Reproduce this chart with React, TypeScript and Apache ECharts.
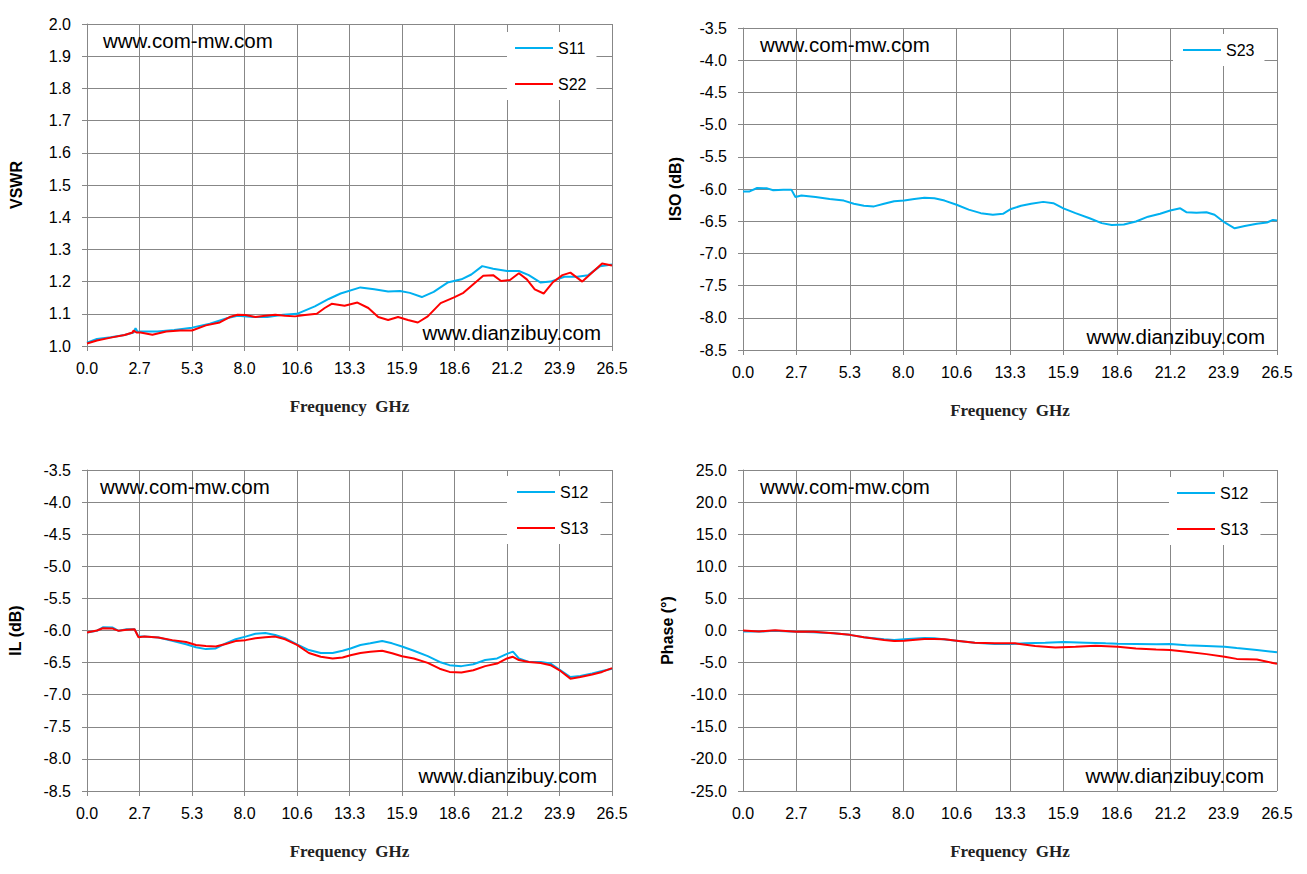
import { useEffect, useRef } from 'react';
import * as echarts from 'echarts';

// tick labels of the frequency axis (Excel style, 10 equal steps of 2.65 GHz)
const freqTicks = ['0.0', '2.7', '5.3', '8.0', '10.6', '13.3', '15.9', '18.6', '21.2', '23.9', '26.5'];
const FREQ_STEP = 2.65;

// VSWR (top left)
const s11Freq = [0, 0.5, 1.2, 1.9, 2.35, 2.45, 2.55, 2.7, 3.55, 4.4, 5.3, 6.2, 7.1, 7.6, 8.4, 9.1, 9.9, 10.6, 11.5, 12.2, 12.8, 13.8, 14.5, 15.2, 15.8, 16.3, 16.9, 17.5, 18.2, 18.9, 19.4, 19.95, 20.5, 21.2, 21.8, 22.3, 22.9, 23.4, 24.1, 24.75, 25.3, 25.9, 26.5];
const s11Vswr = [1.010, 1.022, 1.027, 1.034, 1.042, 1.055, 1.044, 1.045, 1.045, 1.05, 1.057, 1.069, 1.087, 1.094, 1.09, 1.09, 1.097, 1.10, 1.123, 1.146, 1.163, 1.182, 1.176, 1.169, 1.171, 1.165, 1.152, 1.168, 1.197, 1.207, 1.222, 1.248, 1.24, 1.233, 1.233, 1.22, 1.197, 1.2, 1.215, 1.215, 1.22, 1.248, 1.253];
const s22Freq = [0, 0.5, 1.2, 1.9, 2.3, 2.35, 2.5, 2.7, 3.3, 4.0, 4.7, 5.3, 6.0, 6.7, 7.2, 7.6, 8.0, 8.5, 9.0, 9.5, 10.0, 10.5, 11.0, 11.6, 12.0, 12.35, 13.0, 13.65, 14.2, 14.7, 15.2, 15.7, 16.2, 16.7, 17.2, 17.85, 18.5, 19.0, 19.5, 20.0, 20.5, 20.9, 21.35, 21.8, 22.2, 22.6, 23.05, 23.5, 24.0, 24.4, 25.0, 25.5, 26.0, 26.5];
const s22Vswr = [1.008, 1.017, 1.026, 1.034, 1.042, 1.048, 1.042, 1.042, 1.035, 1.045, 1.048, 1.048, 1.064, 1.073, 1.09, 1.097, 1.096, 1.09, 1.094, 1.097, 1.094, 1.092, 1.096, 1.10, 1.118, 1.131, 1.125, 1.135, 1.118, 1.09, 1.081, 1.09, 1.081, 1.073, 1.092, 1.133, 1.15, 1.165, 1.192, 1.218, 1.22, 1.202, 1.205, 1.226, 1.207, 1.176, 1.163, 1.197, 1.22, 1.228, 1.2, 1.228, 1.256, 1.25];

// isolation (top right)
const s23Freq = [0, 0.3, 0.7, 1.2, 1.5, 2.0, 2.4, 2.6, 2.9, 3.6, 4.3, 5.0, 5.5, 6.0, 6.5, 7.0, 7.5, 8.0, 8.5, 9.0, 9.5, 10.0, 10.6, 11.2, 11.8, 12.4, 12.9, 13.3, 13.8, 14.3, 14.9, 15.4, 15.9, 16.5, 17.2, 17.8, 18.3, 18.9, 19.5, 20.1, 20.7, 21.2, 21.7, 22.0, 22.5, 23.0, 23.4, 23.9, 24.4, 24.9, 25.5, 26.0, 26.3, 26.5];
const s23Iso = [-6.04, -6.04, -5.985, -5.99, -6.02, -6.01, -6.01, -6.125, -6.10, -6.125, -6.155, -6.18, -6.23, -6.26, -6.27, -6.23, -6.19, -6.18, -6.155, -6.135, -6.145, -6.18, -6.245, -6.32, -6.375, -6.40, -6.385, -6.31, -6.26, -6.23, -6.20, -6.22, -6.30, -6.375, -6.455, -6.53, -6.56, -6.55, -6.505, -6.43, -6.385, -6.335, -6.30, -6.36, -6.37, -6.36, -6.40, -6.52, -6.61, -6.575, -6.54, -6.52, -6.48, -6.49];

// insertion loss (bottom left)
const ilFreq = [0, 0.5, 0.8, 1.3, 1.6, 2.0, 2.4, 2.6, 2.9, 3.6, 4.3, 5.0, 5.5, 6.0, 6.5, 7.0, 7.5, 8.0, 8.5, 9.0, 9.5, 10.0, 10.6, 11.2, 11.8, 12.4, 12.9, 13.3, 13.8, 14.3, 14.9, 15.4, 15.9, 16.5, 17.2, 17.8, 18.3, 18.9, 19.5, 20.1, 20.7, 21.2, 21.5, 21.8, 22.3, 22.9, 23.4, 23.9, 24.4, 24.9, 25.5, 26.0, 26.5];
const s12Il = [-6.03, -6.005, -5.95, -5.955, -6.005, -5.98, -5.98, -6.095, -6.095, -6.11, -6.16, -6.215, -6.26, -6.29, -6.28, -6.2, -6.137, -6.095, -6.05, -6.04, -6.07, -6.12, -6.215, -6.305, -6.35, -6.35, -6.315, -6.28, -6.225, -6.2, -6.165, -6.2, -6.25, -6.315, -6.40, -6.49, -6.54, -6.555, -6.525, -6.46, -6.435, -6.365, -6.33, -6.435, -6.49, -6.49, -6.515, -6.62, -6.725, -6.71, -6.67, -6.63, -6.595];
const s13Il = [-6.03, -6.0, -5.965, -5.97, -6.005, -5.99, -5.98, -6.105, -6.095, -6.11, -6.15, -6.18, -6.225, -6.24, -6.25, -6.21, -6.165, -6.15, -6.12, -6.105, -6.095, -6.137, -6.225, -6.35, -6.41, -6.435, -6.42, -6.385, -6.35, -6.33, -6.315, -6.355, -6.40, -6.435, -6.505, -6.595, -6.645, -6.655, -6.62, -6.555, -6.515, -6.435, -6.41, -6.46, -6.49, -6.505, -6.54, -6.63, -6.75, -6.725, -6.685, -6.645, -6.585];

// phase (bottom right)
const s12PhFreq = [0, 1.0, 1.5, 2.65, 3.5, 4.5, 5.3, 6.0, 7.0, 7.5, 8.0, 9.0, 9.5, 10.6, 11.5, 12.5, 13.3, 14.0, 15.0, 15.9, 17.0, 18.0, 18.6, 19.5, 20.5, 21.2, 22.0, 23.0, 23.9, 24.5, 25.5, 26.5];
const s12Phase = [-0.16, -0.16, -0.05, -0.2, -0.26, -0.42, -0.68, -1.05, -1.37, -1.47, -1.37, -1.16, -1.2, -1.58, -1.9, -2.1, -2.1, -2.0, -1.9, -1.8, -1.9, -2.0, -2.05, -2.1, -2.16, -2.1, -2.3, -2.42, -2.53, -2.74, -3.05, -3.4];
const s13PhFreq = [0, 0.8, 1.6, 2.65, 3.5, 4.5, 5.3, 6.0, 7.0, 7.5, 8.0, 9.0, 9.5, 10.0, 10.6, 11.5, 12.5, 13.5, 14.5, 15.5, 16.5, 17.5, 18.6, 19.5, 20.5, 21.2, 22.0, 23.0, 23.9, 24.5, 25.5, 26.5];
const s13Phase = [0, -0.16, 0.05, -0.2, -0.2, -0.42, -0.68, -1.05, -1.47, -1.63, -1.58, -1.32, -1.32, -1.37, -1.58, -1.9, -2.0, -2.0, -2.42, -2.63, -2.53, -2.37, -2.53, -2.79, -2.95, -3.05, -3.32, -3.68, -4.1, -4.42, -4.53, -5.2];

const BLUE = '#00B0F0';
const RED = '#FF0000';
const GRID_COLOR = '#878787';
const SANS = '"Liberation Sans", Arial, sans-serif';

const zip = (xs: number[], ys: number[]) => xs.map((x, i) => [x, ys[i]]);

const grids = [
  { left: 87, top: 24, width: 525, height: 322 },
  { left: 743, top: 28, width: 534, height: 322 },
  { left: 87, top: 470, width: 525, height: 321 },
  { left: 743, top: 470, width: 534, height: 321 },
];

const yAxes = [
  { name: 'VSWR', min: 1.0, max: 2.0, interval: 0.1, nameGap: 63 },
  { name: 'ISO (dB)', min: -8.5, max: -3.5, interval: 0.5, nameGap: 60 },
  { name: 'IL (dB)', min: -8.5, max: -3.5, interval: 0.5, nameGap: 64 },
  { name: 'Phase (°)', min: -25, max: 25, interval: 5, nameGap: 68 },
];

function buildOption(): echarts.EChartsOption {
  const xAxis = grids.map((_, i) => ({
    type: 'value' as const,
    gridIndex: i,
    min: 0,
    max: 26.5,
    interval: FREQ_STEP,
    name: 'Frequency  GHz',
    nameLocation: 'middle' as const,
    nameGap: 52,
    nameTextStyle: { fontFamily: '"Liberation Serif", serif', fontWeight: 'bold' as const, fontSize: 17, color: '#222' },
    axisLine: { show: true, lineStyle: { color: GRID_COLOR } },
    axisTick: { show: true, length: 5, lineStyle: { color: GRID_COLOR } },
    axisLabel: {
      margin: 14,
      fontSize: 16,
      fontFamily: SANS,
      color: '#000',
      formatter: (v: number) => freqTicks[Math.round(v / FREQ_STEP)] ?? '',
    },
    splitLine: { show: true, lineStyle: { color: GRID_COLOR, width: 1 } },
  }));

  const yAxis = yAxes.map((a, i) => ({
    type: 'value' as const,
    gridIndex: i,
    min: a.min,
    max: a.max,
    interval: a.interval,
    name: a.name,
    nameLocation: 'middle' as const,
    nameRotate: 90,
    nameGap: a.nameGap,
    nameTextStyle: { fontFamily: SANS, fontWeight: 'bold' as const, fontSize: 16, color: '#000' },
    axisLine: { show: true, lineStyle: { color: GRID_COLOR } },
    axisTick: { show: true, length: 5, lineStyle: { color: GRID_COLOR } },
    axisLabel: {
      margin: 16,
      fontSize: 16,
      fontFamily: SANS,
      color: '#000',
      formatter: (v: number) => v.toFixed(1),
    },
    splitLine: { show: true, lineStyle: { color: GRID_COLOR, width: 1 } },
  }));

  const line = (name: string, color: string, idx: number, data: number[][]) => ({
    type: 'line' as const,
    name,
    xAxisIndex: idx,
    yAxisIndex: idx,
    data,
    showSymbol: false,
    symbol: 'none',
    lineStyle: { color, width: 2 },
    itemStyle: { color },
    z: 3,
  });

  const legendBase = {
    orient: 'vertical' as const,
    icon: 'rect',
    itemWidth: 38,
    itemHeight: 2,
    itemGap: 20,
    backgroundColor: '#fff',
    selectedMode: false,
    textStyle: { fontSize: 16, fontFamily: SANS, color: '#000' },
  };

  const wm = (text: string, x: number, y: number, align: 'left' | 'right' = 'left') => ({
    type: 'text' as const,
    x,
    y,
    z: 10,
    style: {
      text,
      fill: '#000',
      font: `20.5px ${SANS}`,
      align,
      verticalAlign: 'middle' as const,
    },
  });

  return {
    animation: false,
    backgroundColor: '#fff',
    grid: grids.map((g) => ({ ...g, containLabel: false })),
    xAxis,
    yAxis,
    legend: [
      { ...legendBase, data: ['S11', 'S22'], left: 507, top: 32, padding: [8, 10, 8, 8] },
      { ...legendBase, data: ['S23'], left: 1173, top: 34, padding: [8, 10, 8, 10] },
      { ...legendBase, data: ['S12', 'S13'], left: 507, top: 476, padding: [8, 12, 8, 10] },
      { ...legendBase, data: ['S12', 'S13'], left: 1169, top: 477, padding: [8, 12, 8, 8] },
    ],
    series: [
      line('S11', BLUE, 0, zip(s11Freq, s11Vswr)),
      line('S22', RED, 0, zip(s22Freq, s22Vswr)),
      line('S23', BLUE, 1, zip(s23Freq, s23Iso)),
      line('S12', BLUE, 2, zip(ilFreq, s12Il)),
      line('S13', RED, 2, zip(ilFreq, s13Il)),
      line('S12', BLUE, 3, zip(s12PhFreq, s12Phase)),
      line('S13', RED, 3, zip(s13PhFreq, s13Phase)),
    ],
    graphic: [
      wm('www.com-mw.com', 103, 40),
      wm('www.com-mw.com', 760, 44),
      wm('www.com-mw.com', 100, 486),
      wm('www.com-mw.com', 760, 486),
      wm('www.dianzibuy.com', 601, 332, 'right'),
      wm('www.dianzibuy.com', 1265, 336, 'right'),
      wm('www.dianzibuy.com', 597, 775, 'right'),
      wm('www.dianzibuy.com', 1264, 775, 'right'),
    ],
  };
}

export default function App() {
  const ref = useRef<HTMLDivElement>(null);

  useEffect(() => {
    document.body.style.margin = '0';
    if (!ref.current) return;
    const chart = echarts.init(ref.current, undefined, { renderer: 'svg' });
    chart.setOption(buildOption());
    return () => chart.dispose();
  }, []);

  return <div ref={ref} style={{ width: 1307, height: 874, background: '#fff' }} />;
}
